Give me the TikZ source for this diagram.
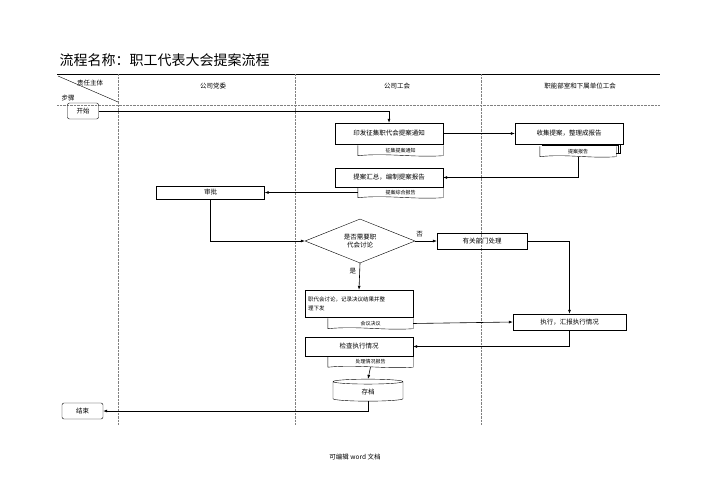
\documentclass[tikz,border=0pt]{standalone}
\usepackage{fontspec}
\setmainfont{Noto Sans CJK SC}
\usetikzlibrary{arrows.meta, positioning, calc, shapes.geometric}

\newcommand{\docwave}[1]{%
  \draw[thin] (#1.north west) -- (#1.south west)
    .. controls ($(#1.south west)!0.35!(#1.south east)+(0,-3)$) and ($(#1.south west)!0.65!(#1.south east)+(0,2)$) .. (#1.south east)
    -- (#1.north east);}

\begin{document}
\begin{tikzpicture}[
	  x=1pt, y=-1pt,
	  font=\fontsize{6.5}{8}\selectfont,
	  box/.style={draw, thin, minimum width=108pt, minimum height=21pt, align=center, inner sep=2pt},
	  startbox/.style={draw, thin, rounded corners=2pt, minimum height=16pt, inner sep=3pt},
	  docbox/.style={draw=none, minimum width=85pt, minimum height=10pt, inner sep=1pt, font=\fontsize{5}{6}\selectfont},
	  decision/.style={draw, thin, diamond, aspect=2.5, minimum width=110pt, minimum height=44pt, align=center, inner sep=0pt},
	  archive/.style={draw, thin, cylinder, shape border rotate=90, aspect=0.25, minimum width=70pt, minimum height=22pt},
	  lane/.style={densely dotted, gray},
	  arrow/.style={-{Latex[length=4pt,width=3pt]}, semithick}
	]
	\useasboundingbox (0,0) rectangle (709,500);

	% header
	\node[anchor=west, font=\fontsize{14}{16}\selectfont] (title) at (56,60) {流程名称：职工代表大会提案流程};
	\draw[thick] (57,74) -- (660,74);
	\draw[lane] (57,105) -- (660,105);
	\foreach \x in {118,295,481} \draw[lane] (\x,74) -- (\x,425);
	\draw[thin] (58,76) -- (118,102);
	\node (hdrA) at (90,83) {责任主体};
	\node (hdrB) at (68,98) {步骤};
	\node (laneA) at (213,86) {公司党委};
	\node (laneB) at (397,86) {公司工会};
	\node (laneC) at (580,86) {职能部室和下属单位工会};

	% nodes
	\node[startbox, minimum width=31pt] (start) at (83,111) {开始};
	\node[box] (notice) at (389,133.5) {印发征集职代会提案通知};
	\node[docbox] (noticedoc) at (400.5,150.5) {征集提案通知};
	\node[box] (collect) at (569,133.5) {收集提案，整理成报告};
	\node[docbox, minimum width=76pt] (reportdoc) at (578,151.5) {提案报告};
	\node[box, minimum height=19pt] (summary) at (389,177.5) {提案汇总，编制提案报告};
	\node[docbox] (summarydoc) at (400.5,192.5) {提案综合报告};
	\node[box, minimum height=13pt] (approve) at (210.5,192.5) {审批};
	\node[decision] (decide) at (360,241) {是否需要职\\代会讨论};
	\node[box, minimum width=90pt, minimum height=16pt] (dept) at (482,241) {有关部门处理};
	\node[box, minimum height=27pt, align=left, text width=102pt, font=\fontsize{5.5}{9}\selectfont] (discuss) at (359,303.5) {职代会讨论，记录决议结果并整\\理下发};
	\node[docbox] (discussdoc) at (370.5,323.5) {会议决议};
	\node[box, minimum width=113pt, minimum height=16pt] (execute) at (569.5,322) {执行，汇报执行情况};
	\node[box, minimum height=19pt] (check) at (359,346.5) {检查执行情况};
	\node[docbox] (checkdoc) at (370.5,362) {处理情况报告};
	\node[archive] (store) at (368,392) {存档};
	\node[startbox, minimum width=41pt] (finish) at (82.5,411) {结束};

	% document shapes
	\docwave{noticedoc}
	\draw[thin] ($(reportdoc.north west)+(4,-2)$) -- ($(reportdoc.north east)+(4,-2)$) -- ($(reportdoc.south east)+(4,-4)$) -- ($(reportdoc.south east)+(0,-4)$);
	\draw[thin] ($(reportdoc.north west)+(2,-1)$) -- ($(reportdoc.north east)+(2,-1)$) -- ($(reportdoc.south east)+(2,-3)$);
	\docwave{reportdoc}
	\docwave{summarydoc}
	\docwave{discussdoc}
	\docwave{checkdoc}

	% connectors
	\draw[arrow] (start.east) -| (notice.north);
	\draw[arrow] (notice.east) -- (collect.west);
	\draw[arrow] (reportdoc.south) |- (summary.east);
	\draw[arrow] (summarydoc.west) -- (approve.east);
	\draw[arrow] (approve.south) |- (decide.west);
	\draw[arrow] (decide.east) -- node[above, pos=0.2] {否} (dept.west);
	\draw[arrow] (decide.south) -- node[left, pos=0.3] {是} (discuss.north);
	\draw[arrow] (dept.east) -| (execute.north);
	\draw[arrow] (discussdoc.east) -- (execute.west);
	\draw[arrow] (execute.south) |- (check.east);
	\draw[arrow] (checkdoc.south) -- (store.north);
	\draw[arrow] (store.south) |- (finish.east);

	% footer
	\node (footer) at (355,457) {可编辑 word 文档};
\end{tikzpicture}
\end{document}
